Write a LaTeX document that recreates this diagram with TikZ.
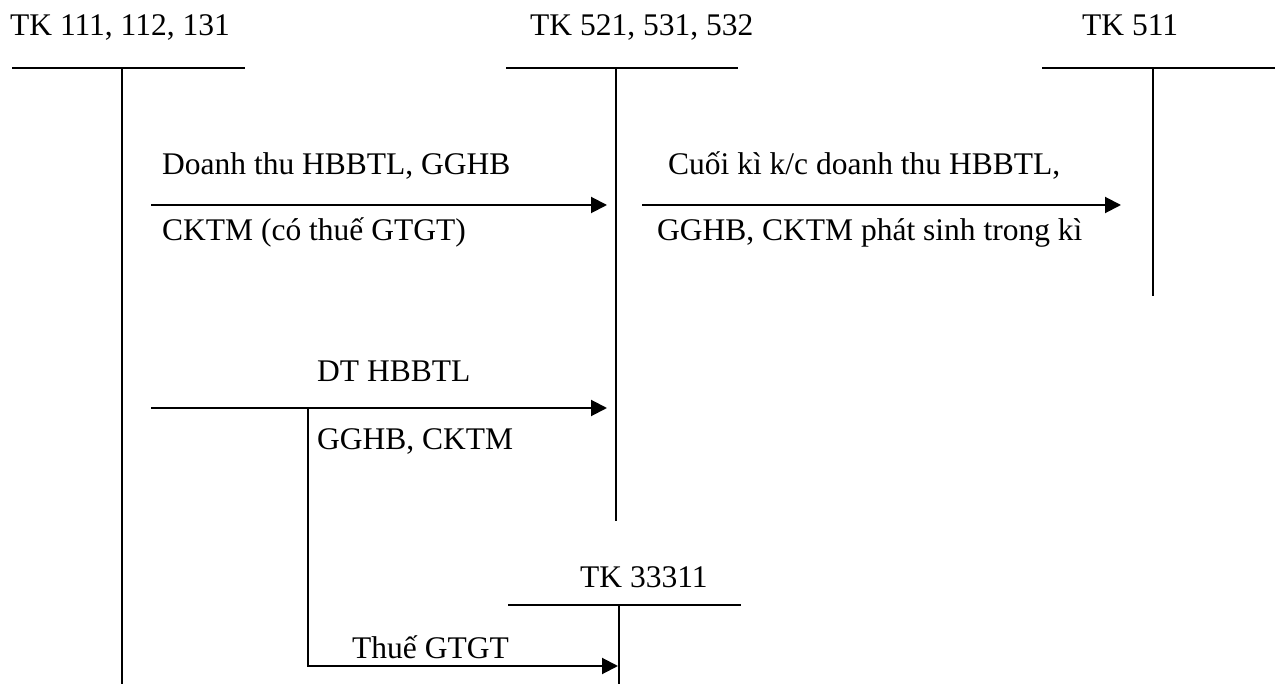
\documentclass[tikz,border=0pt]{standalone}
\usepackage{fontspec}
\setmainfont{Liberation Serif}
\usetikzlibrary{arrows.meta}
\begin{document}
\begin{tikzpicture}[x=1pt,y=-1pt,
  lbl/.style={anchor=base west,inner sep=0pt,font=\fontsize{31.5}{36}\selectfont},
  tline/.style={line width=2pt},
  flow/.style={line width=2pt,-{Triangle[length=16pt,width=16pt]}}]
\useasboundingbox (0,0) rectangle (1278,684);
% T-accounts
\coordinate (a1l) at (12,68); \coordinate (a1r) at (245,68);
\coordinate (a1t) at (122,68); \coordinate (a1b) at (122,684);
\coordinate (a2l) at (506,68); \coordinate (a2r) at (738,68);
\coordinate (a2t) at (616,68); \coordinate (a2b) at (616,521);
\coordinate (a3l) at (1042,68); \coordinate (a3r) at (1275,68);
\coordinate (a3t) at (1153,68); \coordinate (a3b) at (1153,296);
\coordinate (a4l) at (508,605); \coordinate (a4r) at (741,605);
\coordinate (a4t) at (619,605); \coordinate (a4b) at (619,684);
\draw[tline] (a1l) -- (a1r) (a1t) -- (a1b);
\draw[tline] (a2l) -- (a2r) (a2t) -- (a2b);
\draw[tline] (a3l) -- (a3r) (a3t) -- (a3b);
\draw[tline] (a4l) -- (a4r) (a4t) -- (a4b);
% titles
\node[lbl] (t1) at (10,36) {TK 111, 112, 131};
\node[lbl] (t2) at (530,36) {TK 521, 531, 532};
\node[lbl] (t3) at (1082,36) {TK 511};
\node[lbl] (t4) at (580,587) {TK 33311};
% arrows
\coordinate (s1) at (151,205); \coordinate (e1) at (607,205);
\coordinate (s2) at (642,205); \coordinate (e2) at (1121,205);
\coordinate (s3) at (151,408); \coordinate (e3) at (607,408);
\coordinate (br) at (308,408); \coordinate (bc) at (308,666); \coordinate (e4) at (618,666);
\draw[flow] (s1) -- (e1);
\draw[flow] (s2) -- (e2);
\draw[flow] (s3) -- (e3);
\draw[flow] (br) -- (bc) -- (e4);
% labels
\node[lbl] (l1) at (162,175) {Doanh thu HBBTL, GGHB};
\node[lbl] (l2) at (162,241) {CKTM (có thuế GTGT)};
\node[lbl] (l3) at (668,175) {Cuối kì k/c doanh thu HBBTL,};
\node[lbl] (l4) at (657,241) {GGHB, CKTM phát sinh trong kì};
\node[lbl] (l5) at (317,382) {DT HBBTL};
\node[lbl] (l6) at (317,450) {GGHB, CKTM};
\node[lbl] (l7) at (352,658) {Thuế GTGT};
\end{tikzpicture}
\end{document}
